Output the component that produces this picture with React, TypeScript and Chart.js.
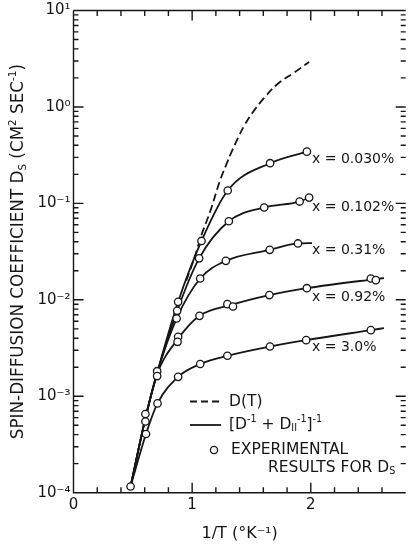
import React, { useEffect, useRef } from 'react';
import { Chart, registerables } from 'chart.js';
Chart.register(...registerables);

const FONT = '"DejaVu Sans", "Liberation Sans", sans-serif';
const INK = '#161616';

// ---- axes ----
const xMin = 0;
const xMax = 2.8;
const yMin = 1e-4;
const yMax = 10;
const xTickLabels = ['0', '1', '2'];
const yTickLabels = ['10⁻⁴', '10⁻³', '10⁻²', '10⁻¹', '10⁰', '10¹'];

// ---- D(T) dashed curve ----
const dtX = [0.95, 1.02, 1.081, 1.151, 1.234, 1.289, 1.336, 1.386, 1.441, 1.51, 1.607, 1.718, 1.856, 1.986];
const dtY = [0.0158, 0.0275, 0.048, 0.0817, 0.171, 0.255, 0.35, 0.475, 0.645, 0.875, 1.24, 1.72, 2.26, 2.92];

// ---- [D^-1 + D||^-1]^-1 curves ----
const c030X = [0.481, 0.606, 0.705, 0.882, 1.079, 1.3, 1.657, 1.967];
const c030Y = [1.16e-4, 5.9e-4, 1.74e-3, 9.53e-3, 0.0408, 0.136, 0.261, 0.344];
const c102X = [0.481, 0.606, 0.705, 0.874, 1.059, 1.309, 1.607, 1.906, 1.986];
const c102Y = [1.16e-4, 5.9e-4, 1.74e-3, 7.69e-3, 0.0269, 0.0653, 0.0906, 0.1045, 0.1148];
const c031X = [0.481, 0.606, 0.705, 0.869, 1.068, 1.284, 1.654, 1.892, 2.01];
const c031Y = [1.16e-4, 5.9e-4, 1.74e-3, 6.4e-3, 0.01663, 0.02535, 0.033, 0.0384, 0.0388];
const c092X = [0.481, 0.606, 0.705, 0.879, 1.062, 1.32, 1.651, 1.967, 2.527, 2.617];
const c092Y = [1.16e-4, 5.9e-4, 1.7e-3, 3.9e-3, 6.82e-3, 8.8e-3, 0.0112, 0.0132, 0.0163, 0.0168];
const c30X = [0.481, 0.611, 0.708, 0.882, 1.068, 1.297, 1.656, 1.961, 2.506, 2.617];
const c30Y = [1.16e-4, 4.06e-4, 8.43e-4, 1.59e-3, 2.16e-3, 2.63e-3, 3.28e-3, 3.82e-3, 4.85e-3, 5.09e-3];

// ---- experimental points ----
const expX = [0.481, 0.606, 0.606, 0.611, 0.708, 0.705, 0.705, 0.882, 0.874, 0.869, 0.882, 0.877, 0.882,
  1.079, 1.3, 1.657, 1.967, 1.059, 1.309, 1.607, 1.906, 1.986, 1.068, 1.284, 1.654, 1.892,
  1.062, 1.297, 1.344, 1.651, 1.967, 2.506, 2.548, 1.068, 1.297, 1.656, 1.961, 2.506];
const expY = [1.16e-4, 6.55e-4, 5.48e-4, 4.06e-4, 8.43e-4, 1.82e-3, 1.62e-3, 9.53e-3, 7.69e-3, 6.4e-3, 4.14e-3, 3.67e-3, 1.59e-3,
  0.0408, 0.136, 0.261, 0.344, 0.0269, 0.0653, 0.0906, 0.1045, 0.1148, 0.01663, 0.02535, 0.033, 0.0384,
  6.82e-3, 9.02e-3, 8.53e-3, 0.0112, 0.0132, 0.01663, 0.016, 2.16e-3, 2.63e-3, 3.28e-3, 3.82e-3, 4.85e-3];

// ---- curve labels ----
const curveNames = ['x = 0.030%', 'x = 0.102%', 'x = 0.31%', 'x = 0.92%', 'x = 3.0%'];
const curveLabelX = [2.01, 2.01, 2.01, 2.01, 2.01];
const curveLabelY = [0.289, 0.0906, 0.0322, 0.01057, 3.2e-3];

const pts = (xs: number[], ys: number[]) => xs.map((x, i) => ({ x, y: ys[i] }));

type Part = { t: string; s?: 'sup' | 'sub' };

function richWidth(ctx: CanvasRenderingContext2D, parts: Part[], size: number) {
  let w = 0;
  for (const p of parts) {
    ctx.font = `${p.s ? size * 0.62 : size}px ${FONT}`;
    w += ctx.measureText(p.t).width;
  }
  return w;
}

function drawRich(ctx: CanvasRenderingContext2D, x: number, y: number, parts: Part[], size: number) {
  let cx = x;
  for (const p of parts) {
    const fs = p.s ? size * 0.62 : size;
    ctx.font = `${fs}px ${FONT}`;
    const dy = p.s === 'sup' ? -size * 0.36 : p.s === 'sub' ? size * 0.25 : 0;
    ctx.fillText(p.t, cx, y + dy);
    cx += ctx.measureText(p.t).width;
  }
}

const decorPlugin = {
  id: 'decor',
  afterDraw(chart: any) {
    const { ctx, chartArea: a, scales } = chart;
    const xs = scales.x;
    const ys = scales.y;
    ctx.save();
    ctx.strokeStyle = INK;
    ctx.lineWidth = 1.4;
    ctx.beginPath();
    // frame: left, bottom, top
    ctx.moveTo(a.left, a.top);
    ctx.lineTo(a.left, a.bottom);
    ctx.lineTo(a.right, a.bottom);
    ctx.moveTo(a.left, a.top);
    ctx.lineTo(a.right, a.top);
    // x ticks (inward, bottom and top)
    for (let i = 0; i <= 13; i++) {
      const v = i * 0.2;
      const px = xs.getPixelForValue(v);
      const len = i % 5 === 0 ? 10 : 5.5;
      ctx.moveTo(px, a.bottom);
      ctx.lineTo(px, a.bottom - len);
      ctx.moveTo(px, a.top);
      ctx.lineTo(px, a.top + len);
    }
    // y ticks (inward, left and right)
    for (let e = -4; e <= 1; e++) {
      for (let m = 1; m <= 9; m++) {
        const v = m * Math.pow(10, e);
        if (v > yMax * 1.0001) break;
        const py = ys.getPixelForValue(v);
        const len = m === 1 ? 10 : 5;
        ctx.moveTo(a.left, py);
        ctx.lineTo(a.left + len, py);
        ctx.moveTo(a.right, py);
        ctx.lineTo(a.right - len, py);
      }
    }
    ctx.stroke();

    ctx.fillStyle = INK;
    ctx.textBaseline = 'middle';
    ctx.textAlign = 'left';

    // y-axis title (rotated)
    const yTitle: Part[] = [
      { t: 'SPIN-DIFFUSION COEFFICIENT D' }, { t: 'S', s: 'sub' },
      { t: ' (CM' }, { t: '2', s: 'sup' }, { t: ' SEC' }, { t: '-1', s: 'sup' }, { t: ')' },
    ];
    const tsize = 16.8;
    const tw = richWidth(ctx, yTitle, tsize);
    ctx.save();
    ctx.translate(19, (a.top + a.bottom) / 2);
    ctx.rotate(-Math.PI / 2);
    drawRich(ctx, -tw / 2, 0, yTitle, tsize);
    ctx.restore();

    // curve labels
    ctx.font = `14px ${FONT}`;
    curveNames.forEach((name, i) => {
      ctx.fillText(name, xs.getPixelForValue(curveLabelX[i]), ys.getPixelForValue(curveLabelY[i]));
    });

    // legend
    ctx.lineWidth = 1.8;
    ctx.setLineDash([7, 4]);
    ctx.beginPath();
    ctx.moveTo(190, 401.5);
    ctx.lineTo(221, 401.5);
    ctx.stroke();
    ctx.setLineDash([]);
    ctx.beginPath();
    ctx.moveTo(190, 425);
    ctx.lineTo(221, 425);
    ctx.stroke();
    ctx.lineWidth = 1.3;
    ctx.fillStyle = '#fff';
    ctx.beginPath();
    ctx.arc(214, 450, 3.6, 0, Math.PI * 2);
    ctx.fill();
    ctx.stroke();
    ctx.fillStyle = INK;
    drawRich(ctx, 229, 401.5, [{ t: 'D(T)' }], 15.5);
    drawRich(ctx, 229, 425, [
      { t: '[D' }, { t: '-1', s: 'sup' }, { t: ' + D' }, { t: 'II', s: 'sub' }, { t: '-1', s: 'sup' },
      { t: ']' }, { t: '-1', s: 'sup' },
    ], 15.5);
    drawRich(ctx, 231, 450, [{ t: 'EXPERIMENTAL' }], 15.5);
    drawRich(ctx, 268, 468, [{ t: 'RESULTS FOR D' }, { t: 'S', s: 'sub' }], 15.5);
    ctx.restore();
  },
};

export default function App() {
  const ref = useRef<HTMLCanvasElement>(null);
  useEffect(() => {
    document.body.style.margin = '0';
    const lineDs = (xs: number[], ys: number[], dash: number[] = [], smooth = false) => ({
      type: 'line' as const,
      data: pts(xs, ys),
      showLine: true,
      borderColor: INK,
      borderWidth: 1.8,
      borderDash: dash,
      pointRadius: 0,
      cubicInterpolationMode: smooth ? ('default' as const) : ('monotone' as const),
      tension: smooth ? 0.4 : 0,
      fill: false,
      order: 2,
    });
    const chart = new Chart(ref.current!, {
      type: 'scatter',
      data: {
        datasets: [
          {
            type: 'scatter',
            data: pts(expX, expY),
            pointRadius: 3.7,
            pointBorderWidth: 1.3,
            pointBackgroundColor: '#fff',
            pointBorderColor: INK,
            showLine: false,
            order: 0,
          } as any,
          lineDs(dtX, dtY, [8, 4], true),
          lineDs(c030X, c030Y),
          lineDs(c102X, c102Y),
          lineDs(c031X, c031Y),
          lineDs(c092X, c092Y),
          lineDs(c30X, c30Y),
        ],
      },
      options: {
        responsive: false,
        animation: false,
        devicePixelRatio: 1,
        layout: { padding: { top: 8.5, right: 0, left: 0, bottom: 0 } },
        plugins: { legend: { display: false }, tooltip: { enabled: false } },
        scales: {
          x: {
            type: 'linear',
            min: xMin,
            max: xMax,
            grid: { display: false, drawTicks: false },
            border: { display: false },
            ticks: {
              stepSize: 0.2,
              autoSkip: false,
              maxRotation: 0,
              padding: 3,
              color: INK,
              font: { family: FONT, size: 15 },
              callback: (v: any) => {
                const r = Math.round(v);
                return Math.abs(v - r) < 1e-6 && xTickLabels[r] !== undefined ? xTickLabels[r] : '';
              },
            },
            title: {
              display: true,
              text: '1/T (°K⁻¹)',
              color: INK,
              font: { family: FONT, size: 16, lineHeight: 1.2 },
              padding: { top: 0, bottom: 5 },
            },
            afterFit: (s: any) => { s.height = 55.3; },
          },
          y: {
            type: 'logarithmic',
            min: yMin,
            max: yMax,
            grid: { display: false, drawTicks: false },
            border: { display: false },
            ticks: {
              autoSkip: false,
              padding: 3,
              color: INK,
              font: { family: FONT, size: 15, lineHeight: 1 },
              callback: (v: any) => {
                const l = Math.log10(v);
                const r = Math.round(l);
                return Math.abs(l - r) < 1e-6 ? (yTickLabels[r + 4] ?? '') : '';
              },
            },
            afterFit: (s: any) => { s.width = 73.5; },
          },
        },
      },
      plugins: [decorPlugin],
    } as any);
    return () => chart.destroy();
  }, []);
  return (
    <div style={{ width: 411, height: 548, background: '#fff' }}>
      <canvas ref={ref} width={411} height={548} style={{ display: 'block' }} />
    </div>
  );
}
